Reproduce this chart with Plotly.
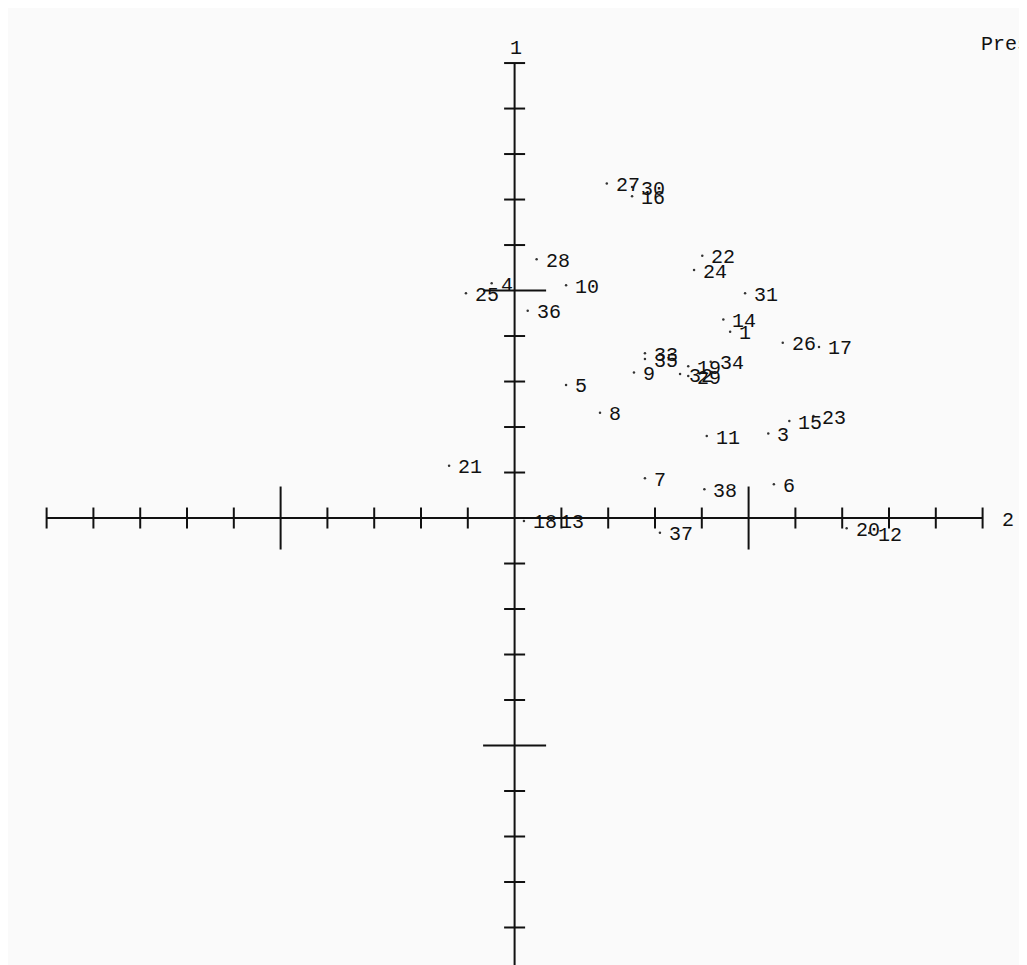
import plotly.graph_objects as go

# ---- data (axis 2 horizontal, axis 1 vertical) ----
labels = ["1", "3", "4", "5", "6", "7", "8", "9", "10", "11", "12", "13", "14",
          "15", "16", "17", "18", "19", "20", "21", "22", "23", "24", "25", "26",
          "27", "28", "29", "30", "31", "32", "33", "34", "35", "36", "37", "38"]
axis2_vals = [0.921, 1.084, -0.098, 0.220, 1.108, 0.557, 0.365, 0.510, 0.220, 0.821,
              1.515, 0.156, 0.892, 1.174, 0.502, 1.301, 0.040, 0.742, 1.419, -0.280,
              0.802, 1.277, 0.767, -0.208, 1.146, 0.394, 0.094, 0.742, 0.502, 0.985,
              0.707, 0.557, 0.838, 0.557, 0.056, 0.621, 0.811]
axis1_vals = [0.819, 0.372, 1.032, 0.585, 0.148, 0.175, 0.463, 0.640, 1.023, 0.360,
              -0.066, -0.009, 0.873, 0.426, 1.415, 0.752, -0.013, 0.667, -0.045, 0.230,
              1.153, 0.448, 1.090, 0.988, 0.771, 1.471, 1.137, 0.624, 1.455, 0.988,
              0.633, 0.724, 0.687, 0.699, 0.911, -0.065, 0.127]

minor_ticks = [-2.0, -1.8, -1.6, -1.4, -1.2, -0.8, -0.6, -0.4, -0.2,
               0.2, 0.4, 0.6, 0.8, 1.2, 1.4, 1.6, 1.8, 2.0]
major_ticks = [-1.0, 1.0]
axis_limits = [-2.0, 2.0]
axis_names = ["2", "1"]   # horizontal, vertical
corner_text = "Pres"

FONT = "Liberation Mono"
FSIZE = 20
INK = "#111111"

fig = go.Figure()

# axis lines
fig.add_trace(go.Scatter(x=axis_limits, y=[0, 0], mode="lines",
                         line=dict(color=INK, width=2), hoverinfo="skip"))
fig.add_trace(go.Scatter(x=[0, 0], y=axis_limits, mode="lines",
                         line=dict(color=INK, width=2), hoverinfo="skip"))

# ticks on horizontal axis
fig.add_trace(go.Scatter(x=minor_ticks, y=[0] * len(minor_ticks), mode="markers",
                         marker=dict(symbol="line-ns", size=15,
                                     line=dict(color=INK, width=2)),
                         hoverinfo="skip"))
fig.add_trace(go.Scatter(x=major_ticks, y=[0] * len(major_ticks), mode="markers",
                         marker=dict(symbol="line-ns", size=45,
                                     line=dict(color=INK, width=2)),
                         hoverinfo="skip"))
# ticks on vertical axis
fig.add_trace(go.Scatter(x=[0] * len(minor_ticks), y=minor_ticks, mode="markers",
                         marker=dict(symbol="line-ew", size=15,
                                     line=dict(color=INK, width=2)),
                         hoverinfo="skip"))
fig.add_trace(go.Scatter(x=[0] * len(major_ticks), y=major_ticks, mode="markers",
                         marker=dict(symbol="line-ew", size=45,
                                     line=dict(color=INK, width=2)),
                         hoverinfo="skip"))

# points
fig.add_trace(go.Scatter(x=axis2_vals, y=axis1_vals, mode="markers",
                         marker=dict(size=2.5, color="#333333"),
                         hoverinfo="skip"))

annotations = []
for lab, xv, yv in zip(labels, axis2_vals, axis1_vals):
    annotations.append(dict(x=xv, y=yv, xref="x", yref="y", text=lab,
                            showarrow=False, xanchor="left", yanchor="middle",
                            xshift=7, yshift=-2,
                            font=dict(family=FONT, size=FSIZE, color=INK)))
# axis names
annotations.append(dict(x=axis_limits[1], y=0, xref="x", yref="y", text=axis_names[0],
                        showarrow=False, xanchor="center", yanchor="middle",
                        xshift=25, yshift=-2,
                        font=dict(family=FONT, size=FSIZE, color=INK)))
annotations.append(dict(x=0, y=axis_limits[1], xref="x", yref="y", text=axis_names[1],
                        showarrow=False, xanchor="center", yanchor="middle",
                        xshift=1, yshift=15,
                        font=dict(family=FONT, size=FSIZE, color=INK)))
annotations.append(dict(x=2.0, y=axis_limits[1], xref="x", yref="y", text=corner_text,
                        showarrow=False, xanchor="left", yanchor="middle",
                        xshift=-4, yshift=19,
                        font=dict(family=FONT, size=FSIZE, color=INK)))

# figure is larger than the window; the window crops it like the reference
fig.update_layout(
    width=1040, height=980,
    margin=dict(l=0, r=0, t=0, b=0),
    paper_bgcolor="#fafafa", plot_bgcolor="#fafafa",
    showlegend=False,
    xaxis=dict(range=[-2.165, 2.2795], visible=False, fixedrange=True),
    yaxis=dict(range=[-2.066, 2.242], visible=False, fixedrange=True),
    annotations=annotations,
)

fig.write_html(
    "out.html",
    post_script="document.documentElement.style.overflow='hidden';"
                "document.body.style.overflow='hidden';",
)
